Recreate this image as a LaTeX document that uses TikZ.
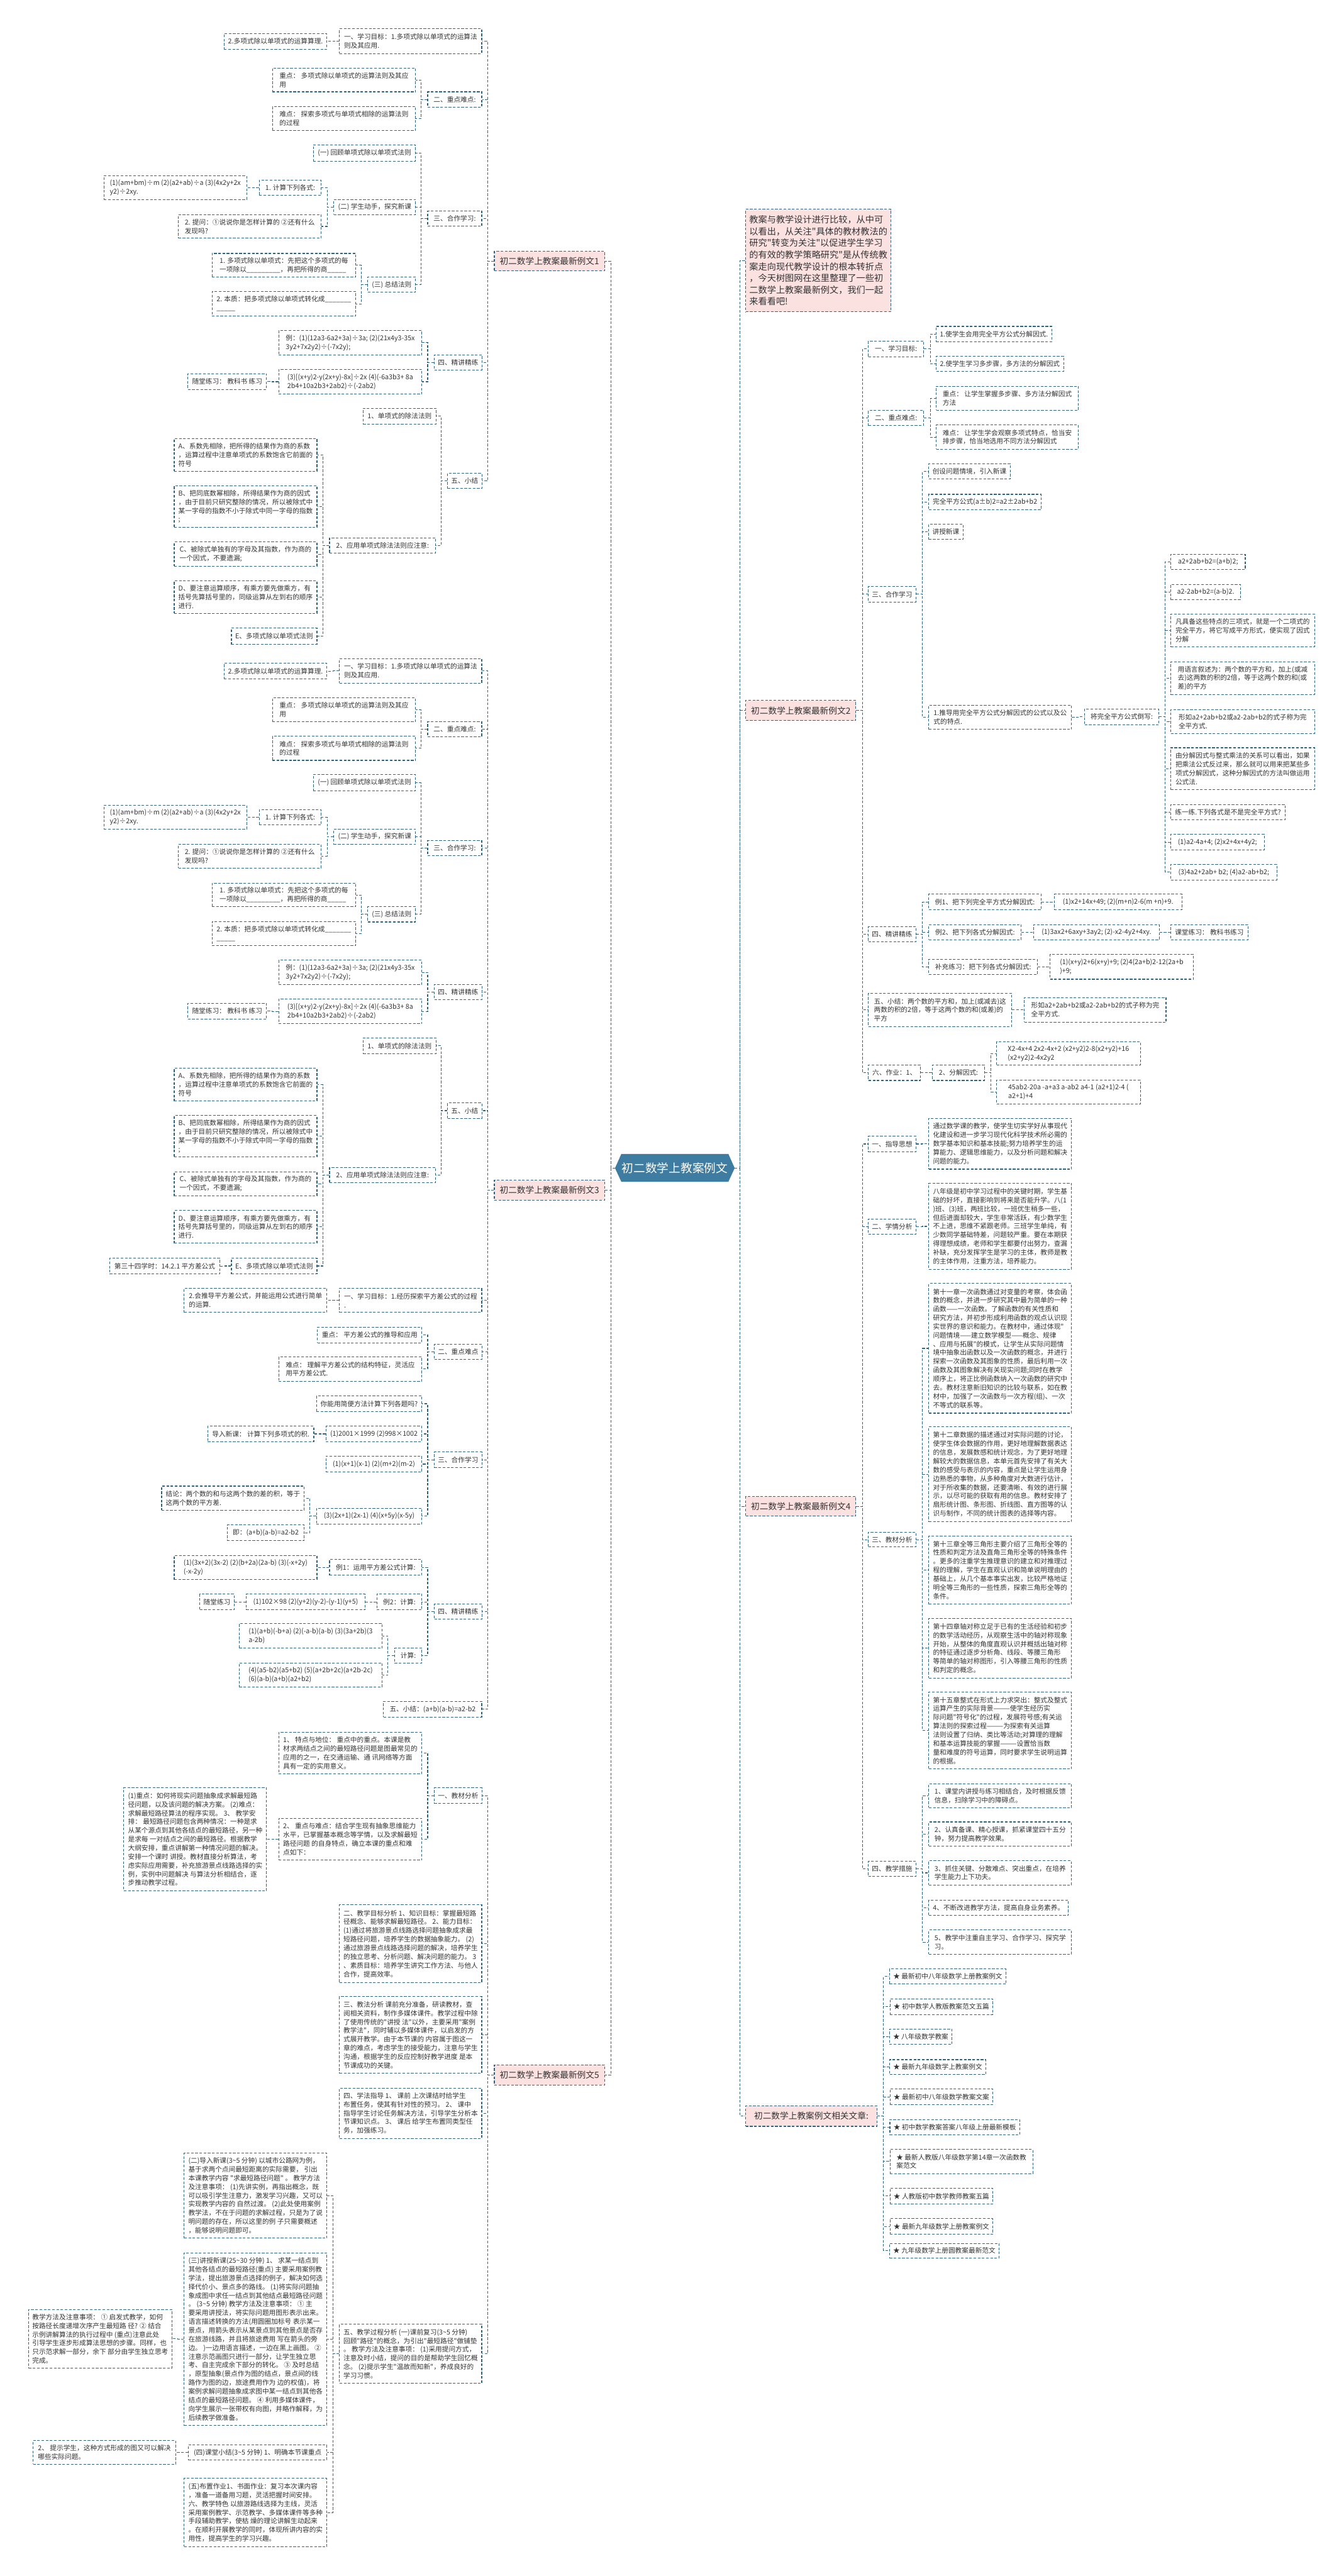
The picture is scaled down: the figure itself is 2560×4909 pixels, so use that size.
\documentclass[tikz,border=0pt]{standalone}
\usepackage{fontspec}
\newfontfamily\cjk{Noto Sans CJK SC}
\definecolor{bc}{HTML}{2F6482}
\definecolor{tc}{HTML}{333333}
\definecolor{pinkc}{HTML}{FCE1E1}
\definecolor{centerc}{HTML}{3F7CA1}
\tikzset{
 leaf/.style={draw=bc, dash pattern=on 5pt off 3pt, line width=1.3pt, fill=white, text=tc,
   font=\cjk\fontsize{12.8}{16.6}\selectfont, align=left, inner xsep=7pt, inner ysep=3pt},
 lone/.style={leaf, fill=pinkc, font=\cjk\fontsize{16.4}{20}\selectfont},
 introbox/.style={leaf, fill=pinkc, font=\cjk\fontsize{17}{22.3}\selectfont},
 conn/.style={draw=bc, line width=1.3pt, dash pattern=on 5pt off 3pt},
}
\newcommand\mkn[7]{\node[#1, minimum width={(#5)-(#3)}, minimum height={(#6)-(#4)}] (#2) at ({((#3)+(#5))/2},{((#4)+(#6))/2}) {#7};}
\newcommand\cL[2]{\draw[conn] (#1.west) -- ++(-12,0) |- (#2.east);}
\newcommand\cR[2]{\draw[conn] (#1.east) -- ++(12,0) |- (#2.west);}
\newcommand\secA[2]{%
\mkn{leaf}{#1a1}{427}{64+#2}{623}{94+#2}{2.多项式除以单项式的运算算理.}
\mkn{leaf}{#1a2}{647}{55+#2}{918}{102+#2}{一、学习目标：1.多项式除以单项式的运算法\\则及其应用.}
\mkn{leaf}{#1a3}{519}{130+#2}{792}{175+#2}{重点： 多项式除以单项式的运算法则及其应\\用}
\mkn{leaf}{#1a4}{815}{175+#2}{918}{204+#2}{二、重点难点:}
\mkn{leaf}{#1a5}{519}{203+#2}{792}{249+#2}{难点： 探索多项式与单项式相除的运算法则\\的过程}
\mkn{leaf}{#1a6}{597}{276+#2}{792}{307+#2}{(一) 回顾单项式除以单项式法则}
\mkn{leaf}{#1a7}{198}{335+#2}{470}{380+#2}{(1)(am+bm)÷m (2)(a2+ab)÷a (3)(4x2y+2x\\y2)÷2xy.}
\mkn{leaf}{#1a8}{494}{343+#2}{612}{372+#2}{1. 计算下列各式:}
\mkn{leaf}{#1a9}{636}{380+#2}{792}{409+#2}{(二) 学生动手，探究新课}
\mkn{leaf}{#1a10}{815}{402+#2}{918}{431+#2}{三、合作学习:}
\mkn{leaf}{#1a11}{340}{409+#2}{612}{454+#2}{2. 提问：①说说你是怎样计算的 ②还有什么\\发现吗?}
\mkn{leaf}{#1a12}{404}{483+#2}{678}{528+#2}{1. 多项式除以单项式：先把这个多项式的每\\一项除以\_\_\_\_\_\_\_\_\_，再把所得的商\_\_\_\_\_}
\mkn{leaf}{#1a13}{701}{528+#2}{792}{557+#2}{(三) 总结法则}
\mkn{leaf}{#1a14}{404}{556+#2}{678}{602+#2}{2. 本质：把多项式除以单项式转化成\_\_\_\_\_\_\_\\ \_\_\_\_\_}
\mkn{leaf}{#1a15}{531}{630+#2}{804}{676+#2}{例：(1)(12a3-6a2+3a)÷3a; (2)(21x4y3-35x\\3y2+7x2y2)÷(-7x2y);}
\mkn{leaf}{#1a16}{828}{676+#2}{918}{705+#2}{四、精讲精练}
\mkn{leaf}{#1a17}{358}{712+#2}{508}{742+#2}{随堂练习： 教科书 练习}
\mkn{leaf}{#1a18}{531}{704+#2}{804}{751+#2}{(3)[(x+y)2-y(2x+y)-8x]÷2x (4)(-6a3b3+ 8a\\2b4+10a2b3+2ab2)÷(-2ab2)}
\mkn{leaf}{#1a19}{692}{778+#2}{831}{808+#2}{1、单项式的除法法则}
\mkn{leaf}{#1a20}{853}{902+#2}{918}{931+#2}{五、小结}
\mkn{leaf}{#1a21}{332}{836+#2}{604}{898+#2}{A、系数先相除，把所得的结果作为商的系数\\，运算过程中注意单项式的系数饱含它前面的\\符号}
\mkn{leaf}{#1a22}{332}{926+#2}{604}{1005+#2}{B、把同底数幂相除，所得结果作为商的因式\\，由于目前只研究整除的情况，所以被除式中\\某一字母的指数不小于除式中同一字母的指数\\;}
\mkn{leaf}{#1a23}{628}{1025+#2}{830}{1054+#2}{2、应用单项式除法法则应注意:}
\mkn{leaf}{#1a24}{332}{1033+#2}{604}{1079+#2}{C、被除式单独有的字母及其指数，作为商的\\一个因式，不要遗漏;}
\mkn{leaf}{#1a25}{332}{1107+#2}{604}{1169+#2}{D、要注意运算顺序，有乘方要先做乘方，有\\括号先算括号里的，同级运算从左到右的顺序\\进行.}
\mkn{leaf}{#1a26}{441}{1197+#2}{604}{1228+#2}{E、多项式除以单项式法则}
\cL{#1a2}{#1a1}
\cL{#1a4}{#1a3}\cL{#1a4}{#1a5}
\cL{#1a10}{#1a6}\cL{#1a10}{#1a9}\cL{#1a10}{#1a13}
\cL{#1a9}{#1a8}\cL{#1a9}{#1a11}\cL{#1a8}{#1a7}
\cL{#1a13}{#1a12}\cL{#1a13}{#1a14}
\cL{#1a16}{#1a15}\cL{#1a16}{#1a18}\cL{#1a18}{#1a17}
\cL{#1a20}{#1a19}\cL{#1a20}{#1a23}
\cL{#1a23}{#1a21}\cL{#1a23}{#1a22}\cL{#1a23}{#1a24}\cL{#1a23}{#1a25}\cL{#1a23}{#1a26}
}
\begin{document}
\begin{tikzpicture}[x=1pt,y=-1pt]
\useasboundingbox[fill=white] (0,0) rectangle (2560,4909);
% centre
\fill[centerc] (1172,2226) -- (1184,2199) -- (1388,2199) -- (1400,2226) -- (1388,2252) -- (1184,2252) -- cycle;
\node[font=\cjk\fontsize{22.4}{26}\selectfont, text=white, minimum width=228, minimum height=53, inner sep=0pt] (C) at (1286,2226) {初二数学上教案例文};
% level 1
\mkn{lone}{L1}{942}{479}{1152}{516}{初二数学上教案最新例文1}
\mkn{lone}{L3}{942}{2249}{1152}{2287}{初二数学上教案最新例文3}
\mkn{lone}{L5}{942}{3935}{1152}{3973}{初二数学上教案最新例文5}
\mkn{introbox}{R0}{1421}{399}{1698}{594}{教案与教学设计进行比较，从中可\\以看出，从关注"具体的教材教法的\\研究"转变为关注"以促进学生学习\\的有效的教学策略研究"是从传统教\\案走向现代教学设计的根本转折点\\，今天树图网在这里整理了一些初\\二数学上教案最新例文，我们一起\\来看看吧!}
\mkn{lone}{R2}{1421}{1335}{1631}{1373}{初二数学上教案最新例文2}
\mkn{lone}{R4}{1421}{2852}{1631}{2889}{初二数学上教案最新例文4}
\mkn{lone}{R6}{1421}{4013}{1671}{4052}{初二数学上教案例文相关文章:}
\draw[conn] (C.west) -- (1164,2226) |- (L1.east);
\draw[conn] (1164,2226) |- (L3.east);
\draw[conn] (1164,2226) |- (L5.east);
\draw[conn] (C.east) -- (1410,2226) |- (R0.west);
\draw[conn] (1410,2226) |- (R2.west);
\draw[conn] (1410,2226) |- (R4.west);
\draw[conn] (1410,2226) |- (R6.west);
% example 1 and first half of example 3
\secA{P}{0}
\secA{Q}{1200}
\foreach \k in {a2,a4,a10,a16,a20} {\cL{L1}{P\k}}
\foreach \k in {a2,a4,a10,a16,a20} {\cL{L3}{Q\k}}
\mkn{leaf}{b0}{209}{2398}{419}{2428}{第三十四学时：14.2.1 平方差公式}
\cL{Qa26}{b0}
% example 3 second half
\mkn{leaf}{b1}{351}{2455}{623}{2501}{2.会推导平方差公式，并能运用公式进行简单\\的运算.}
\mkn{leaf}{b2}{647}{2455}{918}{2501}{一、学习目标：1.经历探索平方差公式的过程\\.}
\mkn{leaf}{b3}{605}{2529}{804}{2559}{重点： 平方差公式的推导和应用}
\mkn{leaf}{b4}{828}{2562}{918}{2591}{二、重点难点}
\mkn{leaf}{b5}{531}{2586}{804}{2632}{难点： 理解平方差公式的结构特征，灵活应\\用平方差公式.}
\mkn{leaf}{b6}{603}{2660}{804}{2690}{你能用简便方法计算下列各题吗?}
\mkn{leaf}{b7}{396}{2718}{598}{2747}{导入新课： 计算下列多项式的积.}
\mkn{leaf}{b8}{621}{2718}{804}{2747}{(1)2001×1999 (2)998×1002}
\mkn{leaf}{b9}{621}{2775}{804}{2805}{(1)(x+1)(x-1) (2)(m+2)(m-2)}
\mkn{leaf}{b10}{828}{2767}{918}{2797}{三、合作学习}
\mkn{leaf}{b11}{308}{2832}{580}{2878}{结论：两个数的和与这两个数的差的积，等于\\这两个数的平方差.}
\mkn{leaf}{b12}{603}{2874}{804}{2904}{(3)(2x+1)(2x-1) (4)(x+5y)(x-5y)}
\mkn{leaf}{b13}{433}{2906}{580}{2936}{即：(a+b)(a-b)=a2-b2}
\mkn{leaf}{b14}{332}{2964}{604}{3010}{(1)(3x+2)(3x-2) (2)(b+2a)(2a-b) (3)(-x+2y)\\(-x-2y)}
\mkn{leaf}{b15}{628}{2972}{804}{3002}{例1：运用平方差公式计算:}
\mkn{leaf}{b16}{381}{3038}{446}{3068}{随堂练习}
\mkn{leaf}{b17}{469}{3038}{696}{3068}{(1)102×98 (2)(y+2)(y-2)-(y-1)(y+5)}
\mkn{leaf}{b18}{718}{3038}{804}{3068}{例2：计算:}
\mkn{leaf}{b19}{828}{3057}{918}{3086}{四、精讲精练}
\mkn{leaf}{b20}{456}{3094}{728}{3141}{(1)(a+b)(-b+a) (2)(-a-b)(a-b) (3)(3a+2b)(3\\a-2b)}
\mkn{leaf}{b21}{752}{3141}{804}{3169}{计算:}
\mkn{leaf}{b22}{456}{3169}{728}{3215}{(4)(a5-b2)(a5+b2) (5)(a+2b+2c)(a+2b-2c)\\ (6)(a-b)(a+b)(a2+b2)}
\mkn{leaf}{b23}{731}{3242}{918}{3272}{五、小结：(a+b)(a-b)=a2-b2}
\foreach \k in {b2,b4,b10,b19,b23} {\cL{L3}{\k}}
\cL{b2}{b1}\cL{b4}{b3}\cL{b4}{b5}
\cL{b10}{b6}\cL{b10}{b8}\cL{b10}{b9}\cL{b10}{b12}\cL{b8}{b7}
\cL{b12}{b11}\cL{b12}{b13}
\cL{b19}{b15}\cL{b19}{b18}\cL{b19}{b21}\cL{b15}{b14}\cL{b18}{b17}\cL{b17}{b16}
\cL{b21}{b20}\cL{b21}{b22}
% example 5
\mkn{leaf}{c1}{531}{3301}{804}{3380}{1、 特点与地位： 重点中的重点。本课是教\\材求两结点之间的最短路径问题是图最常见的\\应用的之一，在交通运输、通 讯网络等方面\\具有一定的实用意义。}
\mkn{leaf}{c2}{828}{3407}{918}{3437}{一、教材分析}
\mkn{leaf}{c3}{236}{3407}{508}{3603}{(1)重点：如何将现实问题抽象成求解最短路\\径问题，以及该问题的解决方案。 (2)难点：\\求解最短路径算法的程序实现。 3、 教学安\\排： 最短路径问题包含两种情况：一种是求\\从某个源点到其他各结点的最短路径，另一种\\是求每 一对结点之间的最短路径。根据教学\\大纲安排，重点讲解第一种情况问题的解决。\\安排一个课时 讲授。教材直接分析算法，考\\虑实际应用需要，补充旅游景点线路选择的实\\例，实例中问题解决 与算法分析相结合，逐\\步推动教学过程。}
\mkn{leaf}{c4}{531}{3465}{804}{3545}{2、 重点与难点：结合学生现有抽象思维能力\\水平，已掌握基本概念等学情，以及求解最短\\路径问题 的自身特点，确立本课的重点和难\\点如下：}
\mkn{leaf}{c5}{647}{3630}{918}{3778}{二、教学目标分析 1、知识目标：掌握最短路\\径概念、能够求解最短路径。 2、能力目标：\\ (1)通过将旅游景点线路选择问题抽象成求最\\短路径问题，培养学生的数据抽象能力。 (2)\\通过旅游景点线路选择问题的解决，培养学生\\的独立思考、分析问题、解决问题的能力。 3\\、素质目标：培养学生讲究工作方法、与他人\\合作，提高效率。}
\mkn{leaf}{c6}{647}{3805}{918}{3951}{三、教法分析 课前充分准备，研读教材，查\\阅相关资料，制作多媒体课件。教学过程中除\\了使用传统的"讲授 法"以外，主要采用"案例\\教学法"，同时辅以多媒体课件，以启发的方\\式展开教学。由于本节课的 内容属于图这一\\章的难点，考虑学生的接受能力，注意与学生\\沟通，根据学生的反应控制好教学进度 是本\\节课成功的关键。}
\mkn{leaf}{c7}{647}{3979}{918}{4075}{四、学法指导 1、 课前 上次课结时给学生\\布置任务，使其有针对性的预习。 2、 课中\\指导学生讨论任务解决方法，引导学生分析本\\节课知识点。 3、 课后 给学生布置同类型任\\务，加强练习。}
\mkn{leaf}{c8}{647}{4429}{918}{4542}{五、教学过程分析 (一)课前复习(3\textasciitilde5 分钟)\\回顾"路径"的概念，为引出"最短路径"做铺垫\\。 教学方法及注意事项： (1)采用提问方式，\\注意及时小结，提问的目的是帮助学生回忆概\\念。 (2)提示学生"温故而知新"，养成良好的\\学习习惯。}
\mkn{leaf}{c9}{351}{4103}{623}{4265}{(二)导入新课(3\textasciitilde5 分钟) 以城市公路网为例，\\ 基于求两个点间最短距离的实际需要， 引出\\本课教学内容 "求最短路径问题" 。 教学方法\\及注意事项： (1)先讲实例，再指出概念，既\\可以吸引学生注意力，激发学习兴趣，又可以\\实现教学内容的 自然过渡。 (2)此处使用案例\\教学法，不在于问题的求解过程，只是为了说\\明问题的存在，所以这里的例 子只需要概述\\，能够说明问题即可。}
\mkn{leaf}{c10}{351}{4293}{623}{4622}{(三)讲授新课(25\textasciitilde30 分钟) 1、 求某一结点到\\其他各结点的最短路径(重点) 主要采用案例教\\学法，提出旅游景点选择的例子，解决如何选\\择代价小、景点多的路线。 (1)将实际问题抽\\象成图中求任一结点到其他结点最短路径问题\\。 (3\textasciitilde5 分钟) 教学方法及注意事项： ① 主\\要采用讲授法，将实际问题用图形表示出来。\\语言描述转换的方法(用圆圈加标号 表示某一\\景点，用箭头表示从某景点到其他景点是否存\\在旅游线路，并且将旅途费用 写在箭头的旁\\边。 )一边用语言描述，一边在黑上画图。 ②\\ 注意示范画图只进行一部分，让学生独立思\\考、自主完成余下部分的转化。 ③ 及时总结\\，原型抽象(景点作为图的结点，景点间的线\\路作为图的边，旅途费用作为 边的权值)，将\\案例求解问题抽象成求图中某一结点到其他各\\结点的最短路径问题。 ④ 利用多媒体课件，\\向学生展示一张带权有向图，并略作解释，为\\后续教学做准备。}
\mkn{leaf}{c11}{55}{4401}{327}{4513}{教学方法及注意事项： ① 启发式教学，如何\\按路径长度递增次序产生最短路 径? ② 结合\\示例讲解算法的执行过程中 (重点)注意此处\\引导学生逐步形成算法思想的步骤。同样，也\\只示范求解一部分，余下 部分由学生独立思考\\完成。}
\mkn{leaf}{c12}{359}{4659}{623}{4688}{(四)课堂小结(3\textasciitilde5 分钟) 1、明确本节课重点}
\mkn{leaf}{c13}{63}{4651}{335}{4696}{2、 提示学生，这种方式形成的图又可以解决\\哪些实际问题。}
\mkn{leaf}{c14}{351}{4723}{623}{4853}{(五)布置作业1、书面作业：复习本次课内容\\，准备一道备用习题，灵活把握时间安排。\\六、教学特色 以旅游路线选择为主线，灵活\\采用案例教学、示范教学、多媒体课件等多种\\手段辅助教学，使枯 燥的理论讲解生动起来\\。在顺利开展教学的同时，体现所讲内容的实\\用性，提高学生的学习兴趣。}
\foreach \k in {c2,c5,c6,c7,c8} {\cL{L5}{\k}}
\cL{c2}{c1}\cL{c2}{c4}\cL{c4}{c3}
\cL{c8}{c9}\cL{c8}{c10}\cL{c8}{c12}\cL{c8}{c14}
\cL{c10}{c11}\cL{c12}{c13}
% example 2
\mkn{leaf}{d1}{1655}{650}{1760}{680}{一、学习目标:}
\mkn{leaf}{d2}{1784}{622}{2004}{651}{1.使学生会用完全平方公式分解因式.}
\mkn{leaf}{d3}{1784}{679}{2027}{708}{2.使学生学习多步骤，多方法的分解因式}
\mkn{leaf}{d4}{1655}{782}{1760}{811}{二、重点难点:}
\mkn{leaf}{d5}{1784}{736}{2055}{782}{重点： 让学生掌握多步骤、多方法分解因式\\方法}
\mkn{leaf}{d6}{1784}{810}{2055}{856}{难点： 让学生学会观察多项式特点，恰当安\\排步骤，恰当地选用不同方法分解因式}
\mkn{leaf}{d7}{1655}{1118}{1745}{1147}{三、合作学习}
\mkn{leaf}{d8}{1770}{884}{1925}{913}{创设问题情境，引入新课}
\mkn{leaf}{d9}{1770}{942}{1984}{971}{完全平方公式(a±b)2=a2±2ab+b2}
\mkn{leaf}{d10}{1770}{999}{1835}{1028}{讲授新课}
\mkn{leaf}{d11}{1770}{1344}{2042}{1390}{1.推导用完全平方公式分解因式的公式以及公\\式的特点.}
\mkn{leaf}{d12}{2067}{1351}{2208}{1381}{将完全平方公式倒写:}
\mkn{leaf}{d13}{2231}{1056}{2373}{1085}{a2+2ab+b2=(a+b)2;}
\mkn{leaf}{d14}{2231}{1114}{2364}{1143}{a2-2ab+b2=(a-b)2.}
\mkn{leaf}{d15}{2231}{1170}{2505}{1233}{凡具备这些特点的三项式，就是一个二项式的\\完全平方，将它写成平方形式，便实现了因式\\分解}
\mkn{leaf}{d16}{2231}{1261}{2505}{1324}{用语言叙述为：两个数的平方和，加上(或减\\去)这两数的积的2倍，等于这两个数的和(或\\差)的平方}
\mkn{leaf}{d17}{2231}{1352}{2505}{1398}{形如a2+2ab+b2或a2-2ab+b2的式子称为完\\全平方式.}
\mkn{leaf}{d18}{2231}{1425}{2505}{1505}{由分解因式与整式乘法的关系可以看出，如果\\把乘法公式反过来，那么就可以用来把某些多\\项式分解因式，这种分解因式的方法叫做运用\\公式法.}
\mkn{leaf}{d19}{2231}{1533}{2449}{1562}{练一练.下列各式是不是完全平方式?}
\mkn{leaf}{d20}{2231}{1590}{2409}{1620}{(1)a2-4a+4; (2)x2+4x+4y2;}
\mkn{leaf}{d21}{2231}{1647}{2433}{1677}{(3)4a2+2ab+ b2; (4)a2-ab+b2;}
\mkn{leaf}{d22}{1655}{1766}{1745}{1795}{四、精讲精练}
\mkn{leaf}{d23}{1770}{1704}{1984}{1734}{例1、把下列完全平方式分解因式:}
\mkn{leaf}{d24}{2009}{1704}{2252}{1734}{(1)x2+14x+49; (2)(m+n)2-6(m +n)+9.}
\mkn{leaf}{d25}{1770}{1762}{1946}{1791}{例2、把下列各式分解因式:}
\mkn{leaf}{d26}{1970}{1762}{2209}{1791}{(1)3ax2+6axy+3ay2; (2)-x2-4y2+4xy.}
\mkn{leaf}{d27}{2231}{1762}{2378}{1791}{课堂练习： 教科书练习}
\mkn{leaf}{d28}{1770}{1828}{1977}{1857}{补充练习：把下列各式分解因式:}
\mkn{leaf}{d29}{2001}{1819}{2274}{1866}{(1)(x+y)2+6(x+y)+9; (2)4(2a+b)2-12(2a+b\\)+9;}
\mkn{leaf}{d30}{1655}{1893}{1928}{1956}{五、小结：两个数的平方和，加上(或减去)这\\两数的积的2倍，等于这两个数的和(或差)的\\平方}
\mkn{leaf}{d31}{1952}{1901}{2222}{1948}{形如a2+2ab+b2或a2-2ab+b2的式子称为完\\全平方式.}
\mkn{leaf}{d32}{1655}{2030}{1754}{2059}{六、作业：1、}
\mkn{leaf}{d33}{1777}{2030}{1876}{2059}{2、分解因式:}
\mkn{leaf}{d34}{1899}{1985}{2173}{2030}{X2-4x+4 2x2-4x+2 (x2+y2)2-8(x2+y2)+16\\ (x2+y2)2-4x2y2}
\mkn{leaf}{d35}{1899}{2058}{2173}{2104}{45ab2-20a -a+a3 a-ab2 a4-1 (a2+1)2-4 (\\a2+1)+4}
\foreach \k in {d1,d4,d7,d22,d30,d32} {\cR{R2}{\k}}
\cR{d1}{d2}\cR{d1}{d3}\cR{d4}{d5}\cR{d4}{d6}
\foreach \k in {d8,d9,d10,d11} {\cR{d7}{\k}}
\cR{d11}{d12}
\foreach \k in {d13,d14,d15,d16,d17,d18,d19,d20,d21} {\cR{d12}{\k}}
\cR{d22}{d23}\cR{d22}{d25}\cR{d22}{d28}
\cR{d23}{d24}\cR{d25}{d26}\cR{d26}{d27}\cR{d28}{d29}
\cR{d30}{d31}\cR{d32}{d33}\cR{d33}{d34}\cR{d33}{d35}
% example 4
\mkn{leaf}{e1}{1655}{2165}{1745}{2195}{一、指导思想}
\mkn{leaf}{e2}{1770}{2131}{2042}{2228}{通过数学课的教学，使学生切实学好从事现代\\化建设和进一步学习现代化科学技术所必需的\\数学基本知识和基本技能;努力培养学生的运\\算能力、逻辑思维能力，以及分析问题和解决\\问题的能力。}
\mkn{leaf}{e3}{1655}{2323}{1745}{2352}{二、学情分析}
\mkn{leaf}{e4}{1770}{2255}{2042}{2419}{八年级是初中学习过程中的关键时期，学生基\\础的好坏，直接影响到将来是否能升学。八(1\\)班、(3)班，两班比较，一班优生稍多一些，\\但后进面却较大，学生非常活跃，有少数学生\\不上进，思维不紧跟老师。三班学生单纯，有\\少数同学基础特差，问题较严重。要在本期获\\得理想成绩，老师和学生都要付出努力，查漏\\补缺，充分发挥学生是学习的主体，教师是教\\的主体作用，注重方法，培养能力。}
\mkn{leaf}{e5}{1655}{2920}{1745}{2948}{三、教材分析}
\mkn{leaf}{e6}{1770}{2446}{2042}{2693}{第十一章一次函数通过对变量的考察，体会函\\数的概念，并进一步研究其中最为简单的一种\\函数——一次函数。了解函数的有关性质和\\研究方法，并初步形成利用函数的观点认识现\\实世界的意识和能力。在教材中，通过体现"\\问题情境——建立数学模型——概念、规律\\、应用与拓展"的模式，让学生从实际问题情\\境中抽象出函数以及一次函数的概念，并进行\\探索一次函数及其图象的性质，最后利用一次\\函数及其图象解决有关现实问题;同时在教学\\顺序上，将正比例函数纳入一次函数的研究中\\去。教材注意新旧知识的比较与联系，如在教\\材中，加强了一次函数与一次方程(组)、一次\\不等式的联系等。}
\mkn{leaf}{e7}{1770}{2719}{2042}{2900}{第十二章数据的描述通过对实际问题的讨论，\\使学生体会数据的作用，更好地理解数据表达\\的信息，发展数感和统计观念，为了更好地理\\解较大的数据信息，本单元首先安排了有关大\\数的感受与表示的内容，重点是让学生运用身\\边熟悉的事物，从多种角度对大数进行估计，\\对于所收集的数据，还要清晰、有效的进行展\\示，以尽可能的获取有用的信息。教材安排了\\扇形统计图、条形图、折线图、直方图等的认\\识与制作，不同的统计图表的选择等内容。}
\mkn{leaf}{e8}{1770}{2927}{2042}{3057}{第十三章全等三角形主要介绍了三角形全等的\\性质和判定方法及直角三角形全等的特殊条件\\。更多的注重学生推理意识的建立和对推理过\\程的理解，学生在直观认识和简单说明理由的\\基础上，从几个基本事实出发，比较严格地证\\明全等三角形的一些性质，探索三角形全等的\\条件。}
\mkn{leaf}{e9}{1770}{3084}{2042}{3198}{第十四章轴对称立足于已有的生活经验和初步\\的数学活动经历，从观察生活中的轴对称现象\\开始，从整体的角度直观认识并概括出轴对称\\的特征通过逐步分析角、线段、等腰三角形\\等简单的轴对称图形，引入等腰三角形的性质\\和判定的概念。}
\mkn{leaf}{e10}{1770}{3224}{2042}{3371}{第十五章整式在形式上力求突出：整式及整式\\运算产生的实际背景———使学生经历实\\际问题"符号化"的过程，发展符号感;有关运\\算法则的探索过程———为探索有关运算\\法则设置了归纳、类比等活动;对算理的理解\\和基本运算技能的掌握———设置恰当数\\量和难度的符号运算，同时要求学生说明运算\\的根据。}
\mkn{leaf}{e11}{1655}{3547}{1745}{3576}{四、教学措施}
\mkn{leaf}{e12}{1770}{3399}{2042}{3445}{1、课堂内讲授与练习相结合，及时根据反馈\\信息，扫除学习中的障碍点。}
\mkn{leaf}{e13}{1770}{3472}{2042}{3518}{2、认真备课、精心授课，抓紧课堂四十五分\\钟，努力提高教学效果。}
\mkn{leaf}{e14}{1770}{3546}{2042}{3592}{3、抓住关键、分散难点、突出重点，在培养\\学生能力上下功夫。}
\mkn{leaf}{e15}{1770}{3621}{2036}{3650}{4、不断改进教学方法，提高自身业务素养。}
\mkn{leaf}{e16}{1770}{3678}{2042}{3724}{5、教学中注重自主学习、合作学习、探究学\\习。}
\foreach \k in {e1,e3,e5,e11} {\cR{R4}{\k}}
\cR{e1}{e2}\cR{e3}{e4}
\foreach \k in {e6,e7,e8,e9,e10} {\cR{e5}{\k}}
\foreach \k in {e12,e13,e14,e15,e16} {\cR{e11}{\k}}
% related articles
\mkn{leaf}{f1}{1696}{3752}{1916}{3781}{★ 最新初中八年级数学上册教案例文}
\mkn{leaf}{f2}{1696}{3809}{1892}{3839}{★ 初中数学人教版教案范文五篇}
\mkn{leaf}{f3}{1696}{3867}{1813}{3896}{★ 八年级数学教案}
\mkn{leaf}{f4}{1696}{3925}{1878}{3953}{★ 最新九年级数学上教案例文}
\mkn{leaf}{f5}{1696}{3981}{1892}{4011}{★ 最新初中八年级数学教案文案}
\mkn{leaf}{f6}{1696}{4039}{1943}{4068}{★ 初中数学教案答案八年级上册最新模板}
\mkn{leaf}{f7}{1696}{4096}{1968}{4142}{★ 最新人教版八年级数学第14章一次函数教\\案范文}
\mkn{leaf}{f8}{1696}{4170}{1892}{4200}{★ 人教版初中数学教师教案五篇}
\mkn{leaf}{f9}{1696}{4228}{1892}{4258}{★ 最新九年级数学上册教案例文}
\mkn{leaf}{f10}{1696}{4275}{1903}{4303}{★ 九年级数学上册圆教案最新范文}
\foreach \k in {f1,f2,f3,f4,f5,f6,f7,f8,f9,f10} {\cR{R6}{\k}}
\end{tikzpicture}
\end{document}
